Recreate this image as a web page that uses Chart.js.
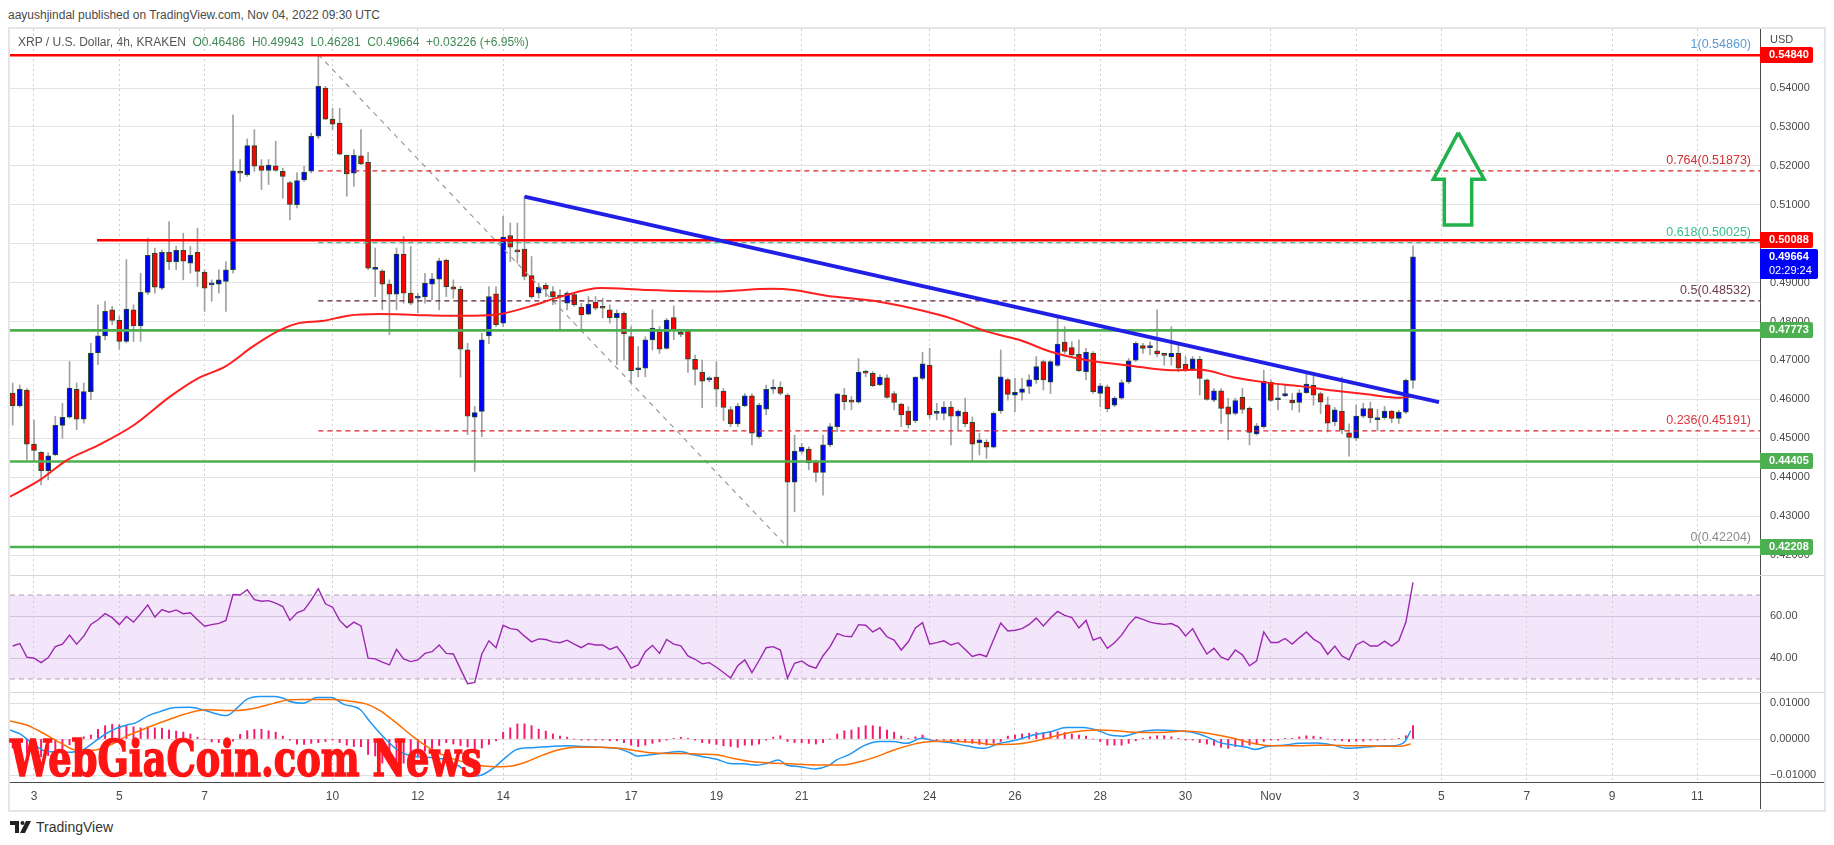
<!DOCTYPE html>
<html>
<head>
<meta charset="utf-8">
<title>XRP / U.S. Dollar, 4h, KRAKEN</title>
<script src="https://cdn.jsdelivr.net/npm/chart.js@4.4.1/dist/chart.umd.min.js"></script>
<style>
  html, body { margin: 0; padding: 0; background: #fff; }
  body { width: 1834px; height: 845px; position: relative; overflow: hidden; font-family: "Liberation Sans", Arial, sans-serif; }
  .abs { position: absolute; }
  #header { left: 8px; top: 8px; font-size: 12px; color: #4a4a4a; }
  #frame { left: 8px; top: 27px; width: 1814px; height: 781px; border: 2px solid #e4e5ea; }
  #legend { left: 18px; top: 35px; font-size: 12px; color: #555; white-space: pre; }
  #legend .v { color: #3f8a55; }
  .sep { left: 10px; width: 1814px; height: 1px; background: #d8d8d8; }
  #timeLine { left: 10px; top: 782px; width: 1814px; height: 1px; background: #4a4a4a; }
  #timeAxisV { left: 1760px; top: 782px; width: 1px; height: 27px; background: #4a4a4a; }
  #watermark { left: 10px; top: 734px; font: bold 50px "DejaVu Serif", serif; color: #ff1414; -webkit-text-stroke: 1.6px #ff1414; line-height: 1; white-space: nowrap; display: inline-block; transform-origin: left top; }
  #tvlogo { left: 10px; top: 819px; font-size: 14px; color: #333; display: flex; align-items: center; gap: 4px; }
</style>
</head>
<body>
<div id="header" class="abs">aayushjindal published on TradingView.com, Nov 04, 2022 09:30 UTC</div>
<div id="frame" class="abs"></div>
<canvas id="cPrice" class="abs" width="1814" height="546" style="left:10px;top:29px"></canvas>
<div class="abs sep" style="top:575px"></div>
<canvas id="cRsi" class="abs" width="1814" height="116" style="left:10px;top:576px"></canvas>
<div class="abs sep" style="top:692px"></div>
<canvas id="cMacd" class="abs" width="1814" height="116" style="left:10px;top:693px"></canvas>
<div id="timeLine" class="abs"></div>
<div id="timeAxisV" class="abs"></div>
<div id="legend" class="abs">XRP / U.S. Dollar, 4h, KRAKEN  <span class="v">O0.46486  H0.49943  L0.46281  C0.49664  +0.03226 (+6.95%)</span></div>
<div id="watermark" class="abs">WebGiaCoin.com News</div>
<div id="tvlogo" class="abs">
  <svg width="22" height="12" viewBox="0 0 22 12"><rect x="0" y="0" width="9" height="4" fill="#222"/><rect x="5" y="0" width="4" height="12" fill="#222"/><circle cx="12.5" cy="2" r="2" fill="#222"/><polygon points="16,0 21,0 15,12 10,12" fill="#222"/></svg>
  <span>TradingView</span>
</div>
<script>
const FONT = '"Liberation Sans", Arial, sans-serif';

// 4h candles, first one Oct 2 12:00 UTC, last one Nov 4 08:00 UTC
const opens = [
  .4616,.4583,.4624,.4485,.4464,.4417,.4458,.4533,.4554,.4626,
  .4549,.4620,.4719,.4763,.4830,.4803,.4749,.4830,.4789,.4875,
  .4976,.4886,.4978,.4954,.4983,.4950,.4978,.4927,.4894,.4896,
  .4903,.4933,.5186,.5177,.5252,.5200,.5188,.5200,.5186,.5157,
  .5100,.5164,.5186,.5276,.5400,.5320,.5310,.5227,.5181,.5226,
  .5209,.4934,.4930,.4896,.4870,.4973,.4873,.4860,.4863,.4896,
  .4909,.4958,.4889,.4883,.4727,.4554,.4569,.4763,.4871,.4796,
  .5021,.4983,.4986,.4918,.4873,.4893,.4877,.4866,.4847,.4869,
  .4837,.4819,.4850,.4839,.4830,.4810,.4821,.4761,.4676,.4680,
  .4753,.4774,.4731,.4810,.4770,.4776,.4703,.4670,.4650,.4657,
  .4621,.4574,.4537,.4583,.4609,.4504,.4575,.4626,.4631,.4611,
  .4387,.4466,.4472,.4440,.4412,.4483,.4530,.4611,.4597,.4593,
  .4669,.4667,.4638,.4655,.4615,.4588,.4570,.4545,.4654,.4688,
  .4564,.4564,.4580,.4557,.4567,.4541,.4489,.4490,.4477,.4570,
  .4651,.4611,.4618,.4633,.4650,.4697,.4644,.4687,.4747,.4733,
  .4716,.4671,.4718,.4615,.4632,.4585,.4603,.4645,.4701,.4738,
  .4733,.4725,.4714,.4710,.4718,.4690,.4678,.4703,.4650,.4598,
  .4622,.4581,.4564,.4605,.4577,.4511,.4530,.4644,.4599,.4609,
  .4598,.4592,.4617,.4636,.4615,.4586,.4542,.4570,.4514,.4500,
  .4557,.4576,.4548,.4553,.4570,.4551,.4567,.46486
];
const highs = [
  .4642,.4637,.4628,.4547,.4466,.4463,.4556,.4590,.4697,.4642,
  .4642,.4744,.4843,.4852,.4839,.4813,.4959,.4843,.4924,.5014,
  .4989,.4984,.5057,.4993,.5027,.4993,.5040,.4933,.4907,.4933,
  .4954,.5331,.5216,.5269,.5293,.5216,.5216,.5263,.5194,.5160,
  .5182,.5199,.5284,.5486,.5404,.5348,.5348,.5228,.5241,.5293,
  .5235,.4989,.4933,.4907,.4989,.5019,.4993,.4873,.4924,.4924,
  .4963,.4960,.4907,.4890,.4744,.4582,.4770,.4890,.4890,.5070,
  .5053,.5053,.5121,.4967,.4899,.4899,.4890,.4882,.4877,.4873,
  .4847,.4864,.4864,.4860,.4843,.4830,.4825,.4787,.4736,.4761,
  .4830,.4787,.4808,.4840,.4778,.4778,.4714,.4701,.4658,.4697,
  .4628,.4581,.4590,.4615,.4615,.4590,.4637,.4651,.4645,.4615,
  .4508,.4487,.4478,.4444,.4508,.4538,.4615,.4628,.4607,.4705,
  .4675,.4671,.4663,.4663,.4620,.4590,.4581,.4658,.4721,.4731,
  .4590,.4594,.4594,.4573,.4603,.4555,.4513,.4496,.4568,.4727,
  .4654,.4654,.4654,.4663,.4710,.4701,.4701,.4817,.4787,.4748,
  .4753,.4731,.4723,.4641,.4637,.4607,.4650,.4705,.4748,.4744,
  .4748,.4830,.4718,.4787,.4744,.4710,.4710,.4710,.4652,.4628,
  .4628,.4603,.4603,.4628,.4581,.4538,.4675,.4650,.4641,.4637,
  .4615,.4625,.4668,.4662,.4619,.4606,.4579,.4657,.4537,.4585,
  .4590,.4593,.4574,.4582,.4572,.4572,.4653,.49943
];
const lows = [
  .4534,.4580,.4445,.4443,.4380,.4393,.4455,.4500,.4552,.4522,
  .4539,.4599,.4689,.4753,.4792,.4729,.4745,.4749,.4749,.4869,
  .4873,.4882,.4933,.4933,.4907,.4924,.4890,.4826,.4852,.4873,
  .4826,.4924,.5160,.5173,.5186,.5139,.5152,.5186,.5117,.5061,
  .5092,.5160,.5182,.5270,.5319,.5293,.5228,.5122,.5147,.5203,
  .4933,.4864,.4830,.4766,.4830,.4847,.4843,.4822,.4847,.4856,
  .4830,.4864,.4860,.4657,.4509,.4415,.4504,.4743,.4787,.4787,
  .4954,.4950,.4907,.4860,.4860,.4864,.4843,.4779,.4830,.4839,
  .4779,.4817,.4830,.4809,.4796,.4689,.4701,.4641,.4658,.4658,
  .4727,.4718,.4729,.4753,.4761,.4669,.4637,.4579,.4645,.4581,
  .4545,.4530,.4530,.4581,.4483,.4500,.4560,.4615,.4611,.42204,
  .4311,.4461,.4419,.4388,.4354,.4478,.4517,.4573,.4573,.4590,
  .4658,.4633,.4635,.4603,.4573,.4530,.4526,.4540,.4650,.4551,
  .4547,.4547,.4483,.4521,.4530,.4440,.4457,.4448,.4475,.4564,
  .4598,.4568,.4598,.4615,.4641,.4624,.4615,.4684,.4718,.4710,
  .4671,.4650,.4615,.4581,.4568,.4581,.4600,.4641,.4697,.4718,
  .4714,.4710,.4688,.4688,.4671,.4671,.4675,.4611,.4598,.4594,
  .4538,.4496,.4560,.4564,.4483,.4508,.4526,.4594,.4573,.4607,
  .4573,.4567,.4615,.4585,.4563,.4516,.4532,.4512,.4454,.4494,
  .4553,.4540,.4520,.4549,.4540,.4538,.4563,.46281
];
const closes = [
  .4584,.4626,.4485,.4469,.4417,.4455,.4533,.4554,.4629,.4549,
  .4620,.4719,.4763,.4826,.4803,.4749,.4832,.4789,.4875,.4970,
  .4888,.4978,.4954,.4983,.4955,.4971,.4929,.4886,.4898,.4907,
  .4933,.5187,.5181,.5252,.5199,.5188,.5202,.5188,.5173,.5101,
  .5162,.5184,.5276,.5404,.5320,.5307,.5230,.5179,.5227,.5205,
  .4937,.4935,.4896,.4870,.4973,.4873,.4847,.4862,.4899,.4910,
  .4956,.4889,.4883,.4729,.4557,.4566,.4753,.4864,.4792,.5017,
  .4991,.4979,.4916,.4863,.4888,.4883,.4864,.4863,.4873,.4843,
  .4817,.4845,.4834,.4834,.4810,.4821,.4768,.4674,.4679,.4753,
  .4783,.4729,.4804,.4778,.4767,.4703,.4677,.4647,.4654,.4626,
  .4579,.4537,.4583,.4609,.4513,.4585,.4626,.4631,.4615,.4387,
  .4467,.4477,.4437,.4412,.4483,.4530,.4614,.4594,.4593,.4670,
  .4667,.4635,.4657,.4605,.4592,.4560,.4534,.4657,.4691,.4560,
  .4566,.4580,.4557,.4570,.4537,.4485,.4496,.4477,.4564,.4658,
  .4613,.4618,.4627,.4650,.4684,.4650,.4697,.4742,.4723,.4714,
  .4674,.4721,.4620,.4635,.4576,.4603,.4643,.4699,.4744,.4731,
  .4738,.4717,.4713,.4718,.4680,.4675,.4704,.4654,.4600,.4622,
  .4577,.4562,.4597,.4574,.4515,.4532,.4647,.4597,.4601,.4615,
  .4591,.4617,.4639,.4611,.4593,.4539,.4573,.4522,.4502,.4557,
  .4576,.4553,.4553,.4570,.4551,.4567,.4649,.49664
];

// RSI(14) per candle
const rsi = [
  45.7,46.9,40.4,39.9,37.8,40.2,45.4,46.6,50.9,46.6,
  50.4,56.0,58.2,61.1,59.2,55.9,59.8,57.1,61.1,65.3,
  59.5,63.1,61.8,62.9,61.1,61.5,58.2,55.1,55.9,56.5,
  57.9,70.2,70.0,72.5,67.8,67.0,67.3,66.1,64.5,57.9,
  61.5,62.9,67.6,73.0,65.8,64.2,57.9,54.5,57.1,55.3,
  39.9,39.6,38.0,36.7,44.1,39.6,38.3,39.1,42.2,43.0,
  46.2,42.2,41.9,34.7,27.8,28.4,41.9,48.2,44.9,55.6,
  54.0,53.5,50.4,47.7,49.1,48.8,47.7,47.3,48.5,46.6,
  44.9,46.9,46.2,46.2,44.1,45.4,41.1,35.2,36.7,43.0,
  46.0,42.2,48.8,46.6,45.8,41.0,39.4,37.2,37.8,35.6,
  33.1,30.5,36.3,39.1,33.1,38.8,44.9,45.4,43.8,30.5,
  37.5,38.6,36.3,35.2,41.1,45.4,51.6,50.4,50.1,55.9,
  55.6,52.4,54.3,50.1,48.5,43.8,47.7,54.3,56.8,46.6,
  47.3,48.2,46.2,47.3,44.1,40.7,41.8,40.7,48.8,56.7,
  52.9,53.2,54.0,56.0,59.0,55.3,59.0,62.2,60.3,59.2,
  54.3,57.9,48.5,49.8,44.6,47.3,50.9,55.9,59.5,58.4,
  57.1,56.4,56.0,56.4,54.8,50.5,54.0,47.7,41.9,44.6,
  40.4,39.1,43.8,41.5,36.3,38.6,52.4,47.4,47.4,49.3,
  46.6,49.6,52.4,49.0,46.9,41.8,45.7,41.0,39.1,46.2,
  48.0,45.7,45.7,48.0,45.7,48.2,57.1,76.0
];

// MACD histogram per candle
const macdHist = [
  -.0025,-.0028,-.0040,-.0046,-.0049,-.0046,-.0039,-.0027,-.0016,-.0002,
  .0006,.0011,.0027,.0037,.0041,.0039,.0037,.0034,.0031,.0034,
  .0031,.0030,.0025,.0022,.0019,.0014,.0005,0,-.0008,-.0010,
  -.0012,-.0006,.0013,.0023,.0027,.0027,.0023,.0019,.0008,-.0003,
  -.0014,-.0015,-.0012,-.0010,-.0007,-.0003,-.0010,-.0017,-.0021,-.0021,
  -.0043,-.0047,-.0067,-.0069,-.0074,-.0067,-.0057,-.0047,-.0034,-.0026,
  -.0018,-.0010,-.0014,-.0018,-.0022,-.0033,-.0025,-.0015,-.0005,.0019,
  .0031,.0042,.0042,.0037,.0027,.0022,.0014,.0008,.0005,0,
  -.0003,-.0003,-.0003,-.0003,-.0005,-.0005,-.0010,-.0017,-.0021,-.0017,
  -.0012,-.0008,-.0003,.0002,.0005,.0002,-.0003,-.0010,-.0012,-.0015,
  -.0019,-.0021,-.0023,-.0017,-.0017,-.0014,-.0003,.0005,.0009,-.0007,
  -.0010,-.0010,-.0012,-.0014,-.0010,0,.0014,.0023,.0025,.0032,
  .0037,.0037,.0034,.0025,.0019,.0008,.0002,.0006,.0011,0,
  -.0003,-.0003,-.0005,-.0007,-.0009,-.0012,-.0015,-.0017,-.0012,-.0007,
  .0008,.0011,.0014,.0016,.0018,.0018,.0019,.0020,.0018,.0014,
  .0011,.0008,0,-.0007,-.0017,-.0017,-.0017,-.0012,-.0005,.0002,
  .0006,.0009,.0009,.0006,.0002,-.0003,-.0003,-.0010,-.0014,-.0017,
  -.0023,-.0026,-.0021,-.0021,-.0017,-.0014,-.0007,-.0003,-.0003,.0002,
  .0002,.0006,.0009,.0008,.0005,0,-.0003,-.0005,-.0007,-.0006,
  -.0006,-.0003,-.0003,-.0001,0,.0002,.0009,.0037
];

// MACD line, traced (day of month, Nov 1 = 32)
const macdDays = [2.437,2.672,2.906,3.297,3.766,4.157,4.469,4.704,4.899,5.173,5.368,5.681,5.954,6.267,6.658,7.009,7.517,7.752,7.986,8.299,8.651,8.846,9.002,9.315,9.627,9.979,10.253,10.644,10.878,11.191,11.581,11.972,12.363,12.675,12.988,13.301,13.496,13.770,14.082,14.317,14.708,15.098,15.489,15.880,16.271,16.661,16.974,17.130,17.443,17.834,18.146,18.459,18.772,19.006,19.319,19.631,19.944,20.178,20.452,20.647,20.960,21.312,21.624,21.820,22.132,22.445,22.836,23.148,23.461,23.812,24.086,24.477,24.868,25.259,25.649,26.040,26.431,26.821,27.212,27.603,27.915,28.228,28.541,28.932,29.322,29.791,30.182,30.495,30.807,31.120,31.432,31.628,31.901,32.292,32.683,33.073,33.464,33.777,34.090,34.402,34.715,34.988,35.145,35.278];
const macdVals = [.0025,.0014,-.0007,-.0035,-.0037,-.0029,-.0003,.0016,.0028,.0039,.0044,.0065,.0076,.0087,.0088,.0079,.0065,.0085,.0110,.0118,.0118,.0113,.0104,.0099,.0115,.0115,.0097,.0082,.0048,.0006,-.0035,-.0049,-.0052,-.0058,-.0077,-.0103,-.0100,-.0081,-.0049,-.0029,-.0024,-.0021,-.0019,-.0021,-.0023,-.0026,-.0038,-.0047,-.0044,-.0038,-.0035,-.0044,-.0051,-.0056,-.0068,-.0069,-.0073,-.0068,-.0058,-.0072,-.0077,-.0083,-.0074,-.0058,-.0042,-.0019,-.0007,-.0007,-.0012,.0002,-.0005,-.0010,-.0019,-.0026,-.0012,-.0003,.0011,.0020,.0032,.0032,.0025,.0011,.0008,.0020,.0025,.0023,.0018,.0006,-.0010,-.0017,-.0023,-.0029,-.0021,-.0017,-.0012,-.0011,-.0017,-.0026,-.0024,-.0021,-.0019,-.0017,-.0007,.0023];
const signalDays = [2.437,2.828,3.219,3.610,4.000,4.391,4.782,5.173,5.563,5.954,6.345,6.736,7.048,7.674,8.143,8.612,8.924,9.237,10.018,10.487,10.800,11.113,11.503,11.894,12.285,12.675,13.144,13.535,13.926,14.239,14.551,14.942,15.333,15.724,16.271,16.661,17.052,17.443,17.834,18.225,18.615,19.006,19.397,19.866,20.178,20.725,21.351,21.976,22.367,22.758,23.148,23.539,23.852,24.242,24.711,25.102,25.493,25.649,26.040,26.431,26.821,27.212,27.603,27.994,28.384,28.775,29.166,29.557,29.947,30.260,30.651,31.120,31.511,31.901,32.292,32.683,33.073,33.464,33.855,34.246,34.637,35.027,35.278];
const signalVals = [.0050,.0039,.0016,-.0010,-.0031,-.0031,-.0017,.0008,.0027,.0045,.0062,.0076,.0081,.0079,.0085,.0099,.0108,.0110,.0110,.0104,.0097,.0079,.0044,.0006,-.0026,-.0049,-.0066,-.0075,-.0077,-.0074,-.0063,-.0044,-.0029,-.0023,-.0023,-.0025,-.0031,-.0038,-.0040,-.0040,-.0042,-.0044,-.0054,-.0063,-.0066,-.0069,-.0072,-.0072,-.0063,-.0049,-.0031,-.0017,-.0009,-.0006,-.0007,-.0010,-.0015,-.0015,-.0014,-.0007,.0004,.0016,.0023,.0025,.0023,.0019,.0018,.0019,.0022,.0020,.0013,.0002,-.0010,-.0018,-.0019,-.0019,-.0017,-.0017,-.0019,-.0019,-.0020,-.0020,-.0014];

// red moving average on the price pane, traced
const emaDays = [2.437,3.141,3.774,4.524,5.345,6.189,6.845,7.478,8.135,8.697,9.143,9.799,10.362,11.089,11.933,12.683,13.317,13.973,14.630,15.357,16.295,17.326,18.920,20.280,20.820,21.546,22.813,23.868,24.501,25.345,26.095,26.822,27.666,28.745,29.683,30.339,31.113,31.910,32.684,33.458,34.255,35.029,35.310];
const emaVals = [.4350,.4393,.4444,.4483,.4534,.4607,.4654,.4684,.4736,.4774,.4794,.4802,.4815,.4819,.4817,.4815,.4815,.4820,.4839,.4864,.4886,.4881,.4877,.4884,.4881,.4867,.4851,.4827,.4808,.4774,.4753,.4723,.4701,.4686,.4675,.4676,.4657,.4643,.4634,.4623,.4613,.4604,.4608];

// time axis
const tickDays = [3,5,7,10,12,14,17,19,21,24,26,28,30,32,34,36,38,40,42];
const tickLabels = ['3','5','7','10','12','14','17','19','21','24','26','28','30','Nov','3','5','7','9','11'];

// drawings
const levelPrices = [0.54840, 0.50088, 0.47773, 0.44405, 0.42208];
const levelFrom = [null, 4.477, null, null, null];
const fibRatios = [1, 0.764, 0.618, 0.5, 0.236, 0];
const fibPrices = [0.54860, 0.51873, 0.50025, 0.48532, 0.45191, 0.42204];
const swingHighDay = 9.667, swingLowDay = 20.667;
const trendDays = [14.5, 35.943];
const trendPrices = [0.5121, 0.4593];
const arrowDays = [36.395, 37.0, 36.709, 36.709, 36.067, 36.067, 35.809, 36.395];
const arrowPrices = [0.52852, 0.51654, 0.51654, 0.5048, 0.5048, 0.51654, 0.51654, 0.52852];
const lastPrice = 0.49664, countdown = '02:29:24';

const X_MIN = 2.4373, X_MAX = 43.469;
const UP = '#0000ff', DOWN = '#ff0000';
const levelColors = ['#ff0000', '#ff0000', '#4caf50', '#4caf50', '#4caf50'];
const fibColors = ['#6fa8dc', '#e0202a', '#3cc495', '#5a2038', '#e0202a', '#8a8a8a'];
const fibLabelColors = ['#5b9bd5', '#d32f2f', '#33bf8a', '#6d3a4f', '#d9373c', '#8a8a8a'];

const candleDays = opens.map((_, i) => 2.5 + i / 6);
const pts = (xs, ys) => xs.map((x, i) => ({ x, y: ys[i] }));
const line = (data, color, width, extra) => Object.assign({
  type: 'line', data, borderColor: color, borderWidth: width,
  pointRadius: 0, fill: false, tension: 0
}, extra || {});

function xScale(showLabels) {
  return {
    type: 'linear', min: X_MIN, max: X_MAX, offset: false,
    grid: { color: '#cfcfcf', drawTicks: false, offset: false },
    border: { display: false, dash: [2, 3] },
    ticks: {
      display: showLabels, autoSkip: false, maxRotation: 0, padding: 7,
      color: '#4a4a4a', font: { size: 12, family: FONT },
      callback: v => { const k = tickDays.indexOf(v); return k < 0 ? '' : tickLabels[k]; }
    },
    afterBuildTicks: s => { s.ticks = tickDays.map(v => ({ value: v })); },
    afterFit: s => { s.height = showLabels ? 27 : 0; s.paddingLeft = 0; s.paddingRight = 0; }
  };
}

function yScale(min, max, ticks, fmt, gridColor) {
  return {
    position: 'right', min, max, beginAtZero: false,
    grid: { color: gridColor, drawTicks: false },
    border: { display: true, color: '#4a4a4a', width: 1 },
    ticks: { padding: 10, color: '#4a4a4a', font: { size: 11, family: FONT }, callback: fmt },
    afterBuildTicks: s => { s.ticks = ticks.map(v => ({ value: v })); },
    afterFit: s => { s.width = 64; s.paddingTop = 0; s.paddingBottom = 0; }
  };
}

const baseOptions = {
  responsive: false, animation: false, events: [], devicePixelRatio: 1,
  layout: { padding: 0 },
  plugins: { legend: { display: false }, tooltip: { enabled: false } }
};

function tagBox(ctx, x, top, w, h, color) {
  ctx.fillStyle = color;
  ctx.beginPath();
  ctx.moveTo(x, top);
  ctx.lineTo(x + w - 2, top);
  ctx.quadraticCurveTo(x + w, top, x + w, top + 2);
  ctx.lineTo(x + w, top + h - 2);
  ctx.quadraticCurveTo(x + w, top + h, x + w - 2, top + h);
  ctx.lineTo(x, top + h);
  ctx.closePath();
  ctx.fill();
}

const priceOverlay = {
  id: 'priceOverlay',
  afterDraw(chart) {
    const { ctx, chartArea: a, scales: { y } } = chart;
    ctx.save();
    ctx.font = '12.5px ' + FONT;
    ctx.textAlign = 'right';
    ctx.textBaseline = 'middle';
    fibRatios.forEach((r, i) => {
      ctx.fillStyle = fibLabelColors[i];
      ctx.fillText(r + '(' + fibPrices[i].toFixed(5) + ')', a.right - 9, y.getPixelForValue(fibPrices[i]) - 10);
    });
    ctx.textAlign = 'left';
    ctx.font = '11px ' + FONT;
    ctx.fillStyle = '#4a4a4a';
    ctx.fillText('USD', a.right + 10, 11);
    ctx.font = 'bold 11px ' + FONT;
    levelPrices.forEach((p, i) => {
      const py = Math.round(y.getPixelForValue(p));
      tagBox(ctx, a.right, py - 8, 53, 16, levelColors[i]);
      ctx.fillStyle = '#fff';
      ctx.fillText(p.toFixed(5), a.right + 9, py);
    });
    const ly = Math.round(y.getPixelForValue(lastPrice));
    tagBox(ctx, a.right, ly - 8, 58, 30, '#0000ff');
    ctx.fillStyle = '#fff';
    ctx.fillText(lastPrice.toFixed(5), a.right + 9, ly);
    ctx.font = '11px ' + FONT;
    ctx.fillText(countdown, a.right + 9, ly + 14);
    ctx.restore();
  }
};

// ---------- price pane ----------
const priceDatasets = [
  {
    type: 'bar', label: 'wicks', order: 20, grouped: false,
    data: candleDays.map((t, i) => ({ x: t, y: [lows[i], highs[i]] })),
    backgroundColor: '#a0a0a0', barThickness: 1, borderWidth: 0
  },
  {
    type: 'bar', label: 'bodies', order: 19, grouped: false,
    data: candleDays.map((t, i) => ({ x: t, y: [opens[i], closes[i]] })),
    backgroundColor: c => closes[c.dataIndex] >= opens[c.dataIndex] ? UP : DOWN,
    borderColor: '#234a2c', borderWidth: 1, borderSkipped: false,
    barThickness: 5, minBarLength: 2
  },
  line([{ x: swingHighDay, y: fibPrices[0] }, { x: swingLowDay, y: fibPrices[5] }], '#9a9a9a', 1.2, { borderDash: [5, 5], order: 11 })
];
fibPrices.forEach((p, i) => {
  priceDatasets.push(line([{ x: swingHighDay, y: p }, { x: X_MAX, y: p }], fibColors[i], 1.3, { borderDash: [5, 4], order: 10 }));
});
levelPrices.forEach((p, i) => {
  priceDatasets.push(line([{ x: levelFrom[i] === null ? X_MIN : levelFrom[i], y: p }, { x: X_MAX, y: p }], levelColors[i], 2.6, { order: 6 }));
});
priceDatasets.push(line(pts(emaDays, emaVals), '#ff1f1f', 2, { cubicInterpolationMode: 'monotone', order: 5 }));
priceDatasets.push(line(pts(trendDays, trendPrices), '#1f1fe6', 4, { order: 4 }));
priceDatasets.push(line(pts(arrowDays, arrowPrices), '#22b14c', 3.5, { borderJoinStyle: 'miter', order: 3 }));

new Chart(document.getElementById('cPrice'), {
  type: 'bar',
  data: { datasets: priceDatasets },
  options: Object.assign({}, baseOptions, {
    scales: {
      x: xScale(false),
      y: yScale(0.41487, 0.55516, [0.42, 0.43, 0.44, 0.45, 0.46, 0.47, 0.48, 0.49, 0.50, 0.51, 0.52, 0.53, 0.54], v => v.toFixed(5), '#e3e3e3')
    }
  }),
  plugins: [priceOverlay]
});

// ---------- RSI pane ----------
const rsiBand = {
  id: 'rsiBand',
  beforeDraw(chart) {
    const { ctx, chartArea: a, scales: { y } } = chart;
    const top = y.getPixelForValue(70), bottom = y.getPixelForValue(30);
    ctx.save();
    ctx.fillStyle = '#f3e6fb';
    ctx.fillRect(a.left, top, a.right - a.left, bottom - top);
    ctx.restore();
  }
};

new Chart(document.getElementById('cRsi'), {
  type: 'line',
  data: {
    datasets: [
      line(pts(candleDays, rsi), '#9c27b0', 1.4, { order: 1 }),
      line([{ x: X_MIN, y: 70 }, { x: X_MAX, y: 70 }], '#aaa3b2', 1, { borderDash: [5, 4], order: 5 }),
      line([{ x: X_MIN, y: 30 }, { x: X_MAX, y: 30 }], '#aaa3b2', 1, { borderDash: [5, 4], order: 5 })
    ]
  },
  options: Object.assign({}, baseOptions, {
    scales: {
      x: xScale(false),
      y: yScale(23.81, 79.05, [40, 60], v => v.toFixed(2), '#d2c4dc')
    }
  }),
  plugins: [rsiBand]
});

// ---------- MACD pane ----------
new Chart(document.getElementById('cMacd'), {
  type: 'bar',
  data: {
    datasets: [
      {
        type: 'bar', order: 10, grouped: false,
        data: candleDays.map((t, i) => ({ x: t, y: macdHist[i] })),
        backgroundColor: '#f5186c', barThickness: 1.3, borderWidth: 0
      },
      line(pts(macdDays, macdVals), '#2196f3', 1.5, { cubicInterpolationMode: 'monotone', order: 2 }),
      line(pts(signalDays, signalVals), '#ff6d00', 1.5, { cubicInterpolationMode: 'monotone', order: 1 })
    ]
  },
  options: Object.assign({}, baseOptions, {
    scales: {
      x: xScale(true),
      y: yScale(-0.01194, 0.01278, [-0.01, 0, 0.01], v => (v < 0 ? '\u2212' : '') + Math.abs(v).toFixed(5), '#dedede')
    }
  })
});

// fit the watermark to its width in the picture
const wm = document.getElementById('watermark');
wm.style.transform = 'scaleX(' + (472 / wm.offsetWidth) + ')';
</script>
</body>
</html>
